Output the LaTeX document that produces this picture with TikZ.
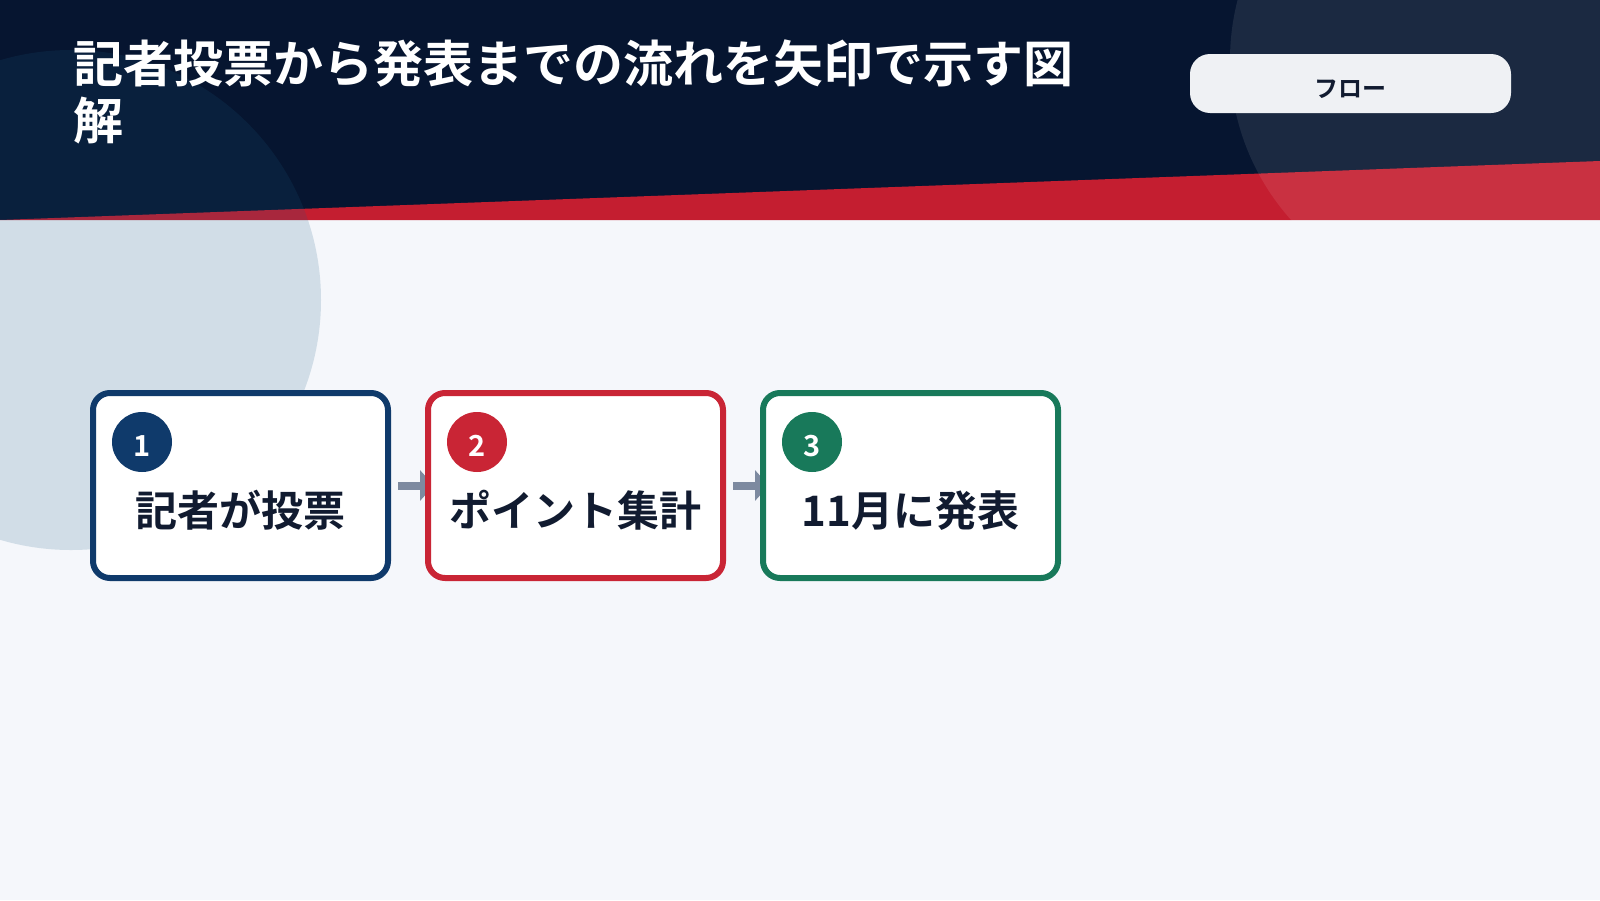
\documentclass[tikz,border=0pt]{standalone}
\usepackage{fontspec}
\setmainfont{Noto Sans CJK JP}[BoldFont={Noto Sans CJK JP Bold}]
\usetikzlibrary{arrows.meta}
\definecolor{bgc}{HTML}{F5F7FB}
\definecolor{navyc}{HTML}{061530}
\definecolor{redc}{HTML}{C41E30}
\definecolor{leftcirc}{RGB}{25,90,130}
\definecolor{cone}{HTML}{0F3A6B}
\definecolor{ctwo}{HTML}{C92535}
\definecolor{cthree}{HTML}{18795A}
\definecolor{textc}{HTML}{111B30}
\definecolor{arrowc}{HTML}{7D8AA0}
\definecolor{pillc}{HTML}{EFF1F4}
\tikzset{
  stepbox/.style={draw, line width=6pt, fill=white, rounded corners=17pt,
    minimum width=295pt, minimum height=185pt, inner sep=0pt},
  numdot/.style={circle, minimum size=60pt, inner sep=0pt},
  numtext/.style={text=white, inner sep=0pt, font=\fontsize{29}{32}\selectfont\bfseries},
  steptext/.style={text=textc, inner sep=0pt, anchor=base, font=\fontsize{42}{48}\selectfont\bfseries},
  titletext/.style={text=white, inner sep=0pt, anchor=base west, font=\fontsize{50}{57}\selectfont\bfseries},
  pill/.style={fill=pillc, rounded corners=20pt, minimum width=321pt, minimum height=59pt, inner sep=0pt},
  pilltext/.style={text=textc, inner sep=0pt, anchor=base, font=\fontsize{24}{28}\selectfont\bfseries},
  flowarrow/.style={draw=arrowc, line width=8pt, -{Triangle[length=14pt,width=30pt]}}
}
\begin{document}
\begin{tikzpicture}[x=1pt,y=-1pt]
\useasboundingbox (0,0) rectangle (1600,900);
% background and header
\fill[bgc] (0,0) rectangle (1600,900);
\fill[navyc] (0,0) rectangle (1600,220);
\fill[redc] (0,220) -- (1600,161) -- (1600,220) -- cycle;
% decorative circles
\fill[leftcirc, opacity=0.16] (71,300) circle[radius=250pt];
\fill[white, opacity=0.085] (1470,60) circle[radius=240pt];
% title
\node[titletext] (title1) at (73,82) {記者投票から発表までの流れを矢印で示す図};
\node[titletext] (title2) at (73,139) {解};
% tag
\node[pill] (tag) at (1350.5,83.5) {};
\node[pilltext] (tagtext) at (1350.5,97) {フロー};
% box positions
\path (240.5,485.5) coordinate (p1) (575.5,485.5) coordinate (p2) (910.5,485.5) coordinate (p3);
% arrows behind boxes
\node[stepbox, draw=none, fill=none] (g1) at (p1) {};
\node[stepbox, draw=none, fill=none] (g2) at (p2) {};
\node[stepbox, draw=none, fill=none] (g3) at (p3) {};
\draw[flowarrow] ([xshift=7pt]g1.east) -- ([xshift=9pt]g2.west);
\draw[flowarrow] ([xshift=7pt]g2.east) -- ([xshift=9pt]g3.west);
% boxes
\node[stepbox, draw=cone] (b1) at (p1) {};
\node[stepbox, draw=ctwo] (b2) at (p2) {};
\node[stepbox, draw=cthree] (b3) at (p3) {};
% number dots
\node[numdot, fill=cone] (d1) at (142,442) {};
\node[numdot, fill=ctwo] (d2) at (477,442) {};
\node[numdot, fill=cthree] (d3) at (812,442) {};
\node[numtext] (n1) at (142,446) {1};
\node[numtext] (n2) at (477,446) {2};
\node[numtext] (n3) at (812,446) {3};
% step labels
\node[steptext] (t1) at (240.5,526) {記者が投票};
\node[steptext] (t2) at (575.5,526) {ポイント集計};
\node[steptext] (t3) at (910.5,526) {11月に発表};
\end{tikzpicture}
\end{document}
